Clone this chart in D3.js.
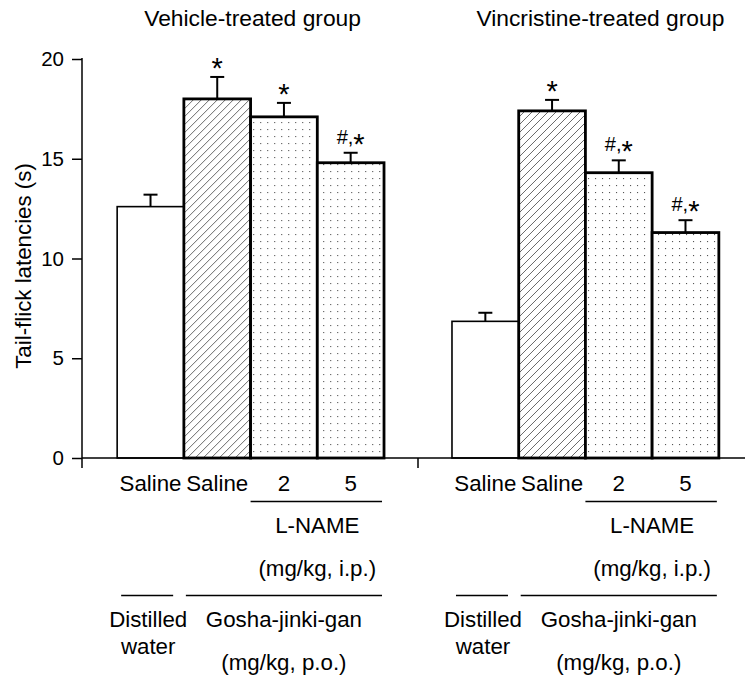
<!DOCTYPE html>
<html><head><meta charset="utf-8">
<script src="https://cdn.jsdelivr.net/npm/d3@7"></script>
<style>html,body{margin:0;padding:0;background:#fff}svg{display:block}text{font-family:"Liberation Sans",Arial,sans-serif;fill:#000}</style>
</head><body><div id="chart"></div>
<script>
// ---- data ----
const groups = ["Vehicle-treated group", "Vincristine-treated group"];
const treatments = ["Saline", "Saline", "2", "5"];
const vehicleMeans = [12.6, 18.0, 17.1, 14.8];
const vehicleSem = [0.6, 1.1, 0.7, 0.5];
const vincristineMeans = [6.85, 17.4, 14.3, 11.3];
const vincristineSem = [0.43, 0.55, 0.62, 0.62];
const vehicleMarks = ["", "*", "*", "#,*"];
const vincristineMarks = ["", "*", "#,*", "#,*"];
const yTicks = [0, 5, 10, 15, 20];
const fills = ["open", "hatch", "dots", "dots"];
const yTitle = "Tail-flick latencies (s)";
const lnameLabel = ["L-NAME", "(mg/kg, i.p.)"];
const vehicleLabel = ["Distilled", "water"];
const gjgLabel = ["Gosha-jinki-gan", "(mg/kg, p.o.)"];

const series = [
  {group: groups[0], means: vehicleMeans, sem: vehicleSem, marks: vehicleMarks},
  {group: groups[1], means: vincristineMeans, sem: vincristineSem, marks: vincristineMarks}
];

const W = 745, H = 680;
const LF = 22.3;
const svg = d3.select("#chart").append("svg").attr("width", W).attr("height", H);
const defs = svg.append("defs");
const hp = defs.append("pattern").attr("id", "hatch").attr("patternUnits", "userSpaceOnUse")
  .attr("width", 8).attr("height", 8);
hp.append("rect").attr("width", 8).attr("height", 8).attr("fill", "#fff");
hp.append("path").attr("d", "M-2,2 l4,-4 M0,8 l8,-8 M6,10 l4,-4")
  .attr("stroke", "#444").attr("stroke-width", 0.8);
const dp = defs.append("pattern").attr("id", "dots").attr("patternUnits", "userSpaceOnUse")
  .attr("width", 7).attr("height", 7);
dp.append("rect").attr("width", 7).attr("height", 7).attr("fill", "#fff");
dp.append("rect").attr("x", 3).attr("y", 3).attr("width", 1.1).attr("height", 1.1).attr("fill", "#555");

const axisX = 82, baseY = 458;
const y = d3.scaleLinear().domain([0, 20]).range([baseY, 59]);
const xg = d3.scaleBand().domain(groups).range([axisX, 754]).paddingInner(0.203).paddingOuter(0.105);
const xi = d3.scaleBand().domain(d3.range(treatments.length)).range([0, xg.bandwidth()]).padding(0);

// y axis
const yAxis = d3.axisLeft(y).tickValues(yTicks).tickSize(10).tickPadding(8).tickFormat(d3.format("d"));
const ya = svg.append("g").attr("transform", `translate(${axisX},0)`).call(yAxis);
ya.select(".domain").remove();
ya.selectAll(".tick line").attr("stroke", "#000").attr("stroke-width", 1.5);
ya.selectAll(".tick text").attr("font-size", 20.5).attr("font-family", "Liberation Sans, Arial, sans-serif").attr("fill", "#000");
svg.append("line").attr("x1", axisX).attr("x2", axisX).attr("y1", y(20) - 1).attr("y2", baseY + 10)
  .attr("stroke", "#000").attr("stroke-width", 1.5);

svg.append("text").attr("transform", `translate(31,${(160 + 372) / 2}) rotate(-90)`)
  .attr("text-anchor", "middle").attr("font-size", LF).text(yTitle);

// bars
series.forEach((s, gi) => {
  const gx = xg(s.group);
  const g = svg.append("g").attr("transform", `translate(${gx},0)`);
  s.means.forEach((m, i) => {
    const bx = xi(i), bw = xi.bandwidth(), cx = bx + bw / 2;
    const top = y(m + s.sem[i]);
    g.append("line").attr("x1", cx).attr("x2", cx).attr("y1", y(m)).attr("y2", top)
      .attr("stroke", "#000").attr("stroke-width", 2);
    g.append("line").attr("x1", cx - 7).attr("x2", cx + 7).attr("y1", top).attr("y2", top)
      .attr("stroke", "#000").attr("stroke-width", 2);
  });
  s.means.forEach((m, i) => {
    const bx = xi(i), bw = xi.bandwidth();
    const thick = fills[i] !== "open";
    g.append("rect").attr("x", bx).attr("y", y(m)).attr("width", bw).attr("height", baseY - y(m))
      .attr("fill", fills[i] === "open" ? "#fff" : `url(#${fills[i]})`)
      .attr("stroke", "#000").attr("stroke-width", thick ? 2.8 : 1.6);
  });
  s.means.forEach((m, i) => {
    const mk = s.marks[i];
    if (!mk) return;
    const cx = xi(i) + xi.bandwidth() / 2;
    const top = y(m + s.sem[i]);
    if (mk === "*") {
      g.append("text").attr("x", cx).attr("y", top - 14.5 + 16).attr("text-anchor", "middle")
        .attr("font-size", 29).text("*");
    } else {
      const t = g.append("text").attr("x", cx).attr("y", top - 9).attr("text-anchor", "middle")
        .attr("font-size", 20);
      t.append("tspan").text(mk.slice(0, 2));
      t.append("tspan").attr("font-size", 29).attr("dy", 10).text(mk.slice(2));
    }
  });

  // x labels
  treatments.forEach((t, i) => {
    g.append("text").attr("x", xi(i) + xi.bandwidth() / 2).attr("y", 490.5)
      .attr("text-anchor", "middle").attr("font-size", LF).text(t);
  });
  const x2 = xi(2), x4e = xi(3) + xi.bandwidth();
  const lc = (x2 + x4e) / 2;
  g.append("line").attr("x1", x2).attr("x2", x4e - 2).attr("y1", 501.5).attr("y2", 501.5)
    .attr("stroke", "#000").attr("stroke-width", 1.5);
  g.append("text").attr("x", lc).attr("y", 533).attr("text-anchor", "middle").attr("font-size", LF).text(lnameLabel[0]);
  g.append("text").attr("x", lc).attr("y", 576).attr("text-anchor", "middle").attr("font-size", LF).text(lnameLabel[1]);
  const b1 = xi(0);
  g.append("line").attr("x1", b1 + 4).attr("x2", b1 + 56).attr("y1", 595.5).attr("y2", 595.5)
    .attr("stroke", "#000").attr("stroke-width", 1.5);
  g.append("line").attr("x1", xi(1) + 2).attr("x2", x4e - 2).attr("y1", 595.5).attr("y2", 595.5)
    .attr("stroke", "#000").attr("stroke-width", 1.5);
  g.append("text").attr("x", b1 + 31).attr("y", 626.5).attr("text-anchor", "middle").attr("font-size", LF).text(vehicleLabel[0]);
  g.append("text").attr("x", b1 + 31).attr("y", 654).attr("text-anchor", "middle").attr("font-size", LF).text(vehicleLabel[1]);
  const gc = (xi(1) + x4e) / 2;
  g.append("text").attr("x", gc).attr("y", 626.5).attr("text-anchor", "middle").attr("font-size", LF).text(gjgLabel[0]);
  g.append("text").attr("x", gc).attr("y", 670).attr("text-anchor", "middle").attr("font-size", LF).text(gjgLabel[1]);

  // group title
  const titleDx = [2, 15][gi];
  svg.append("text").attr("x", gx + xg.bandwidth() / 2 + titleDx).attr("y", 26)
    .attr("text-anchor", "middle").attr("font-size", 22.8).text(s.group);
});

// baseline and separator
svg.append("line").attr("x1", axisX).attr("x2", W).attr("y1", baseY).attr("y2", baseY)
  .attr("stroke", "#000").attr("stroke-width", 1.6);
const sepX = (xg(groups[0]) + xg.bandwidth() + xg(groups[1])) / 2;
svg.append("line").attr("x1", sepX).attr("x2", sepX).attr("y1", baseY).attr("y2", baseY + 10)
  .attr("stroke", "#000").attr("stroke-width", 1.5);
</script></body></html>
